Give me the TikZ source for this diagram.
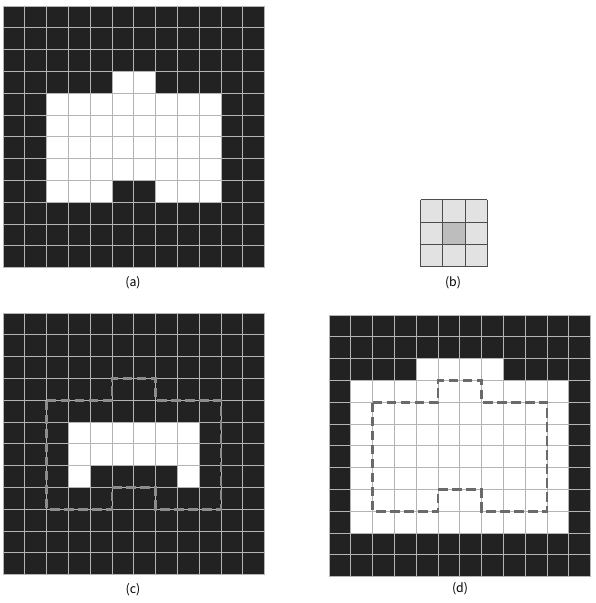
\documentclass[tikz,border=0pt]{standalone}
\usepackage{fontspec}
\setmainfont{Noto Sans CJK KR}
\usepackage{tikz}
\usetikzlibrary{positioning}
\definecolor{pixblk}{HTML}{222222}
\definecolor{gridgr}{HTML}{B4B4B4}
\definecolor{dashgr}{HTML}{6A6A6A}
\definecolor{kerlt}{HTML}{E2E2E2}
\definecolor{kerdk}{HTML}{BDBDBD}
\tikzset{
  bg/.style={fill=pixblk},
  fg/.style={fill=white},
  pixgrid/.style={draw=gridgr,line width=0.28mm},
  outln/.style={draw=dashgr,line width=0.85mm,dash pattern=on 2.9mm off 1.3mm},
  kcell/.style={fill=kerlt},
  kmid/.style={fill=kerdk},
  kgrid/.style={draw=black!70,line width=0.3mm},
  sublbl/.style={font=\fontsize{10.5}{12}\selectfont,inner sep=1pt},
}
% outline of the original set (in cell units, y down)
\newcommand{\shapeA}{(2,4) -- (5,4) -- (5,3) -- (7,3) -- (7,4) -- (10,4) -- (10,9) -- (7,9) -- (7,8) -- (5,8) -- (5,9) -- (2,9) -- cycle}
% n x n cell lines in the current units
\newcommand{\cellgrid}[2]{\foreach \k in {0,...,#2}{\draw[#1] (\k,0) -- (\k,#2); \draw[#1] (0,\k) -- (#2,\k);}}
\begin{document}
\begin{tikzpicture}[x=0.3mm,y=-0.3mm]
  \useasboundingbox (0,0) rectangle (595,603);
  % (a) original image
  \begin{scope}[shift={(3,6)},x=6.54mm,y=-6.54mm]
    \fill[bg] (0,0) rectangle (12,12);
    \fill[fg] \shapeA;
    \cellgrid{pixgrid}{12}
  \end{scope}
  \node[sublbl] (lbla) at (133,283) {(a)};
  % (b) structuring element
  \begin{scope}[shift={(420.7,200)},x=6.66mm,y=-6.66mm]
    \fill[kcell] (0,0) rectangle (3,3);
    \fill[kmid] (1,1) rectangle (2,2);
    \cellgrid{kgrid}{3}
  \end{scope}
  \node[sublbl] (lblb) at (453,283) {(b)};
  % (c) erosion
  \begin{scope}[shift={(3,313)},x=6.54mm,y=-6.54mm]
    \fill[bg] (0,0) rectangle (12,12);
    \fill[fg] (3,5) -- (9,5) -- (9,8) -- (8,8) -- (8,7) -- (4,7) -- (4,8) -- (3,8) -- cycle;
    \cellgrid{pixgrid}{12}
    \draw[outln,draw=black!45] \shapeA;
  \end{scope}
  \node[sublbl] (lblc) at (133,590) {(c)};
  % (d) dilation
  \begin{scope}[shift={(329,315)},x=6.54mm,y=-6.54mm]
    \fill[bg] (0,0) rectangle (12,12);
    \fill[fg] (1,3) -- (4,3) -- (4,2) -- (8,2) -- (8,3) -- (11,3) -- (11,10) -- (1,10) -- cycle;
    \cellgrid{pixgrid}{12}
    \draw[outln] \shapeA;
  \end{scope}
  \node[sublbl] (lbld) at (460,589) {(d)};
\end{tikzpicture}
\end{document}
